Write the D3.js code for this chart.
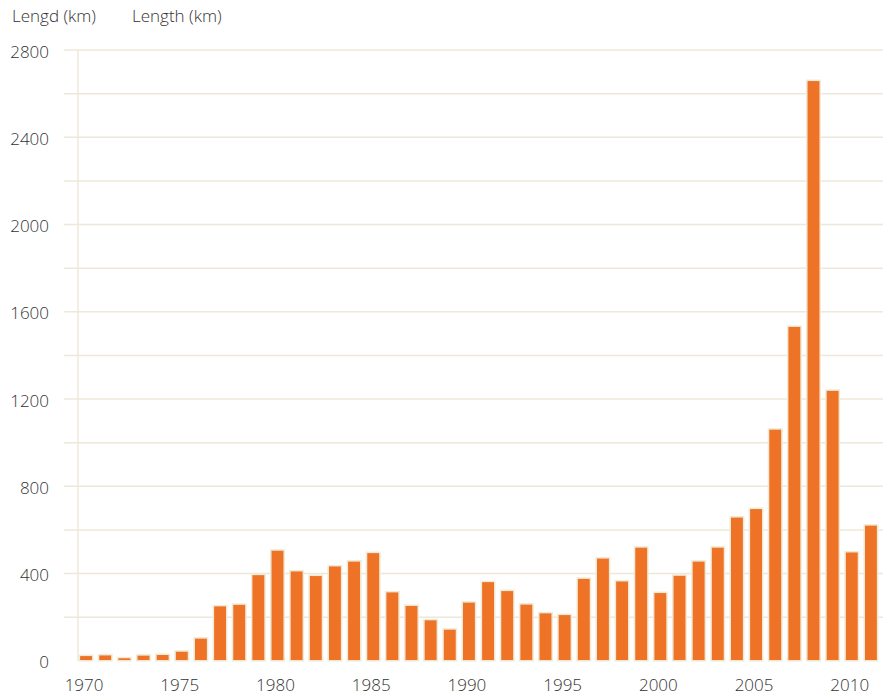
<!DOCTYPE html>
<html>
<head>
<meta charset="utf-8">
<script src="https://d3js.org/d3.v7.min.js"></script>
<style>
body { margin: 0; background: #fff; }
text { font-family: "Open Sans", sans-serif; fill: #333; }
.tick-label { font-size: 17px; font-weight: 300; }
.title { font-size: 17px; font-weight: 300; }
</style>
</head>
<body>
<div id="chart"></div>
<script>
// data
var years = d3.range(1970, 2012);
var lengths = [25, 28, 15, 27, 30, 45, 105, 253, 260, 396,
               508, 413, 392, 436, 458, 497, 317, 255, 189, 146,
               270, 364, 323, 261, 221, 213, 379, 472, 367, 522,
               314, 393, 458, 522, 660, 699, 1063, 1534, 2661, 1241,
               500, 623];
var yTicks = [0, 400, 800, 1200, 1600, 2000, 2400, 2800];
var gridVals = d3.range(200, 2801, 200);
var xLabels = [1970, 1975, 1980, 1985, 1990, 1995, 2000, 2005, 2010];

var width = 891, height = 697;

var svg = d3.select("#chart").append("svg")
  .attr("width", width).attr("height", height);

var x = d3.scaleBand()
  .domain(years)
  .range([76.5, 880.5])
  .paddingInner(0.3)
  .paddingOuter(0.15);

var y = d3.scaleLinear()
  .domain([0, 2800])
  .range([660.8, 50]);

// gridlines
svg.append("g").selectAll("line")
  .data(gridVals)
  .enter().append("line")
  .attr("x1", 64).attr("x2", 883)
  .attr("y1", function(d) { return y(d); })
  .attr("y2", function(d) { return y(d); })
  .attr("stroke", "#eee8d8")
  .attr("stroke-width", 1.5);

// axis line
svg.append("line")
  .attr("x1", 78).attr("x2", 78)
  .attr("y1", y(2800)).attr("y2", y(0))
  .attr("stroke", "#eee8d8")
  .attr("stroke-width", 1.5);

// bars
svg.append("g").selectAll("rect")
  .data(years)
  .enter().append("rect")
  .attr("x", function(d) { return x(d); })
  .attr("width", x.bandwidth())
  .attr("y", function(d, i) { return y(lengths[i]); })
  .attr("height", function(d, i) { return y(0) - y(lengths[i]); })
  .attr("fill", "#ee7326")
  .attr("stroke", "#f1ead6")
  .attr("stroke-width", 1.5);

// y labels
svg.append("g").selectAll("text")
  .data(yTicks)
  .enter().append("text")
  .attr("class", "tick-label")
  .attr("x", 49)
  .attr("y", function(d) { return y(d); })
  .attr("dy", "0.45em")
  .attr("text-anchor", "end")
  .text(function(d) { return d; });

// x labels
svg.append("g").selectAll("text")
  .data(xLabels)
  .enter().append("text")
  .attr("class", "tick-label")
  .attr("x", function(d) { return x(d) + x.bandwidth() / 2 - 2; })
  .attr("y", 691)
  .attr("text-anchor", "middle")
  .text(function(d) { return d; });

// titles
svg.append("text").attr("class", "title")
  .attr("x", 12).attr("y", 22).text("Lengd (km)");
svg.append("text").attr("class", "title")
  .attr("x", 132).attr("y", 22).text("Length (km)");
</script>
</body>
</html>
